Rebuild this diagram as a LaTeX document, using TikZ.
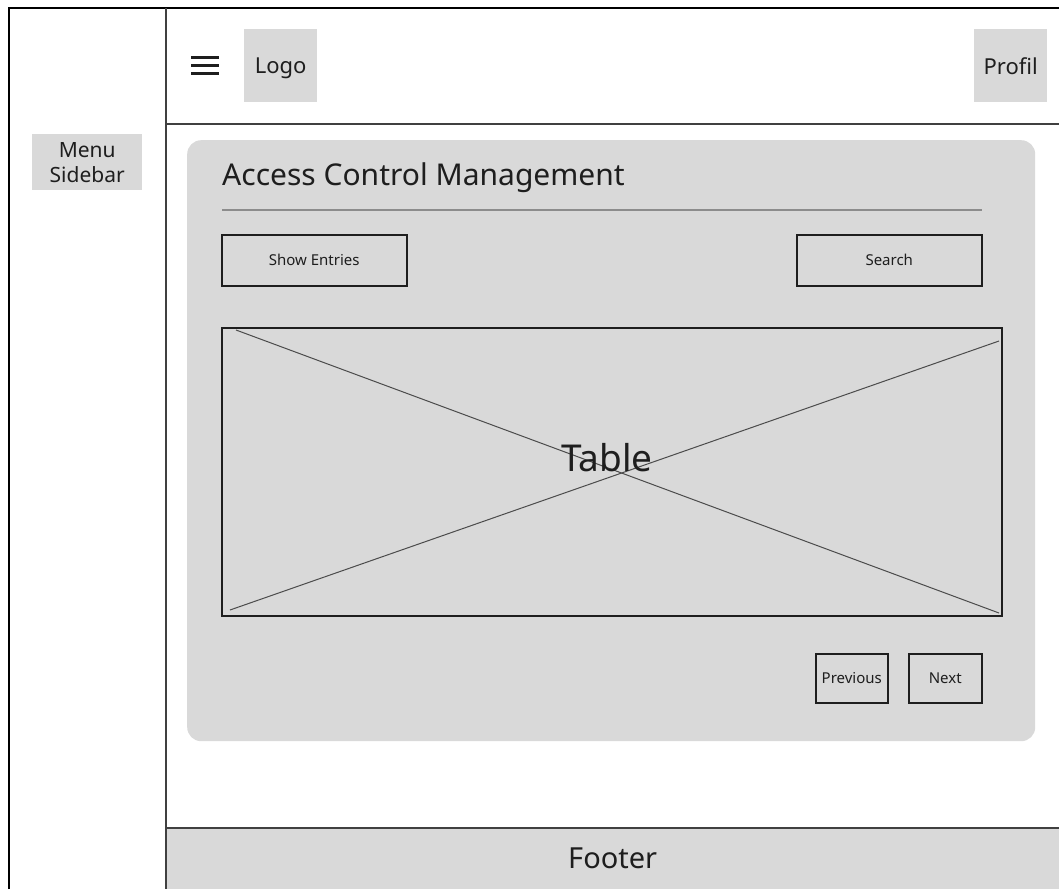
\documentclass[tikz,border=0pt]{standalone}
\usepackage{fontspec}
\setmainfont{Noto Sans}
\usetikzlibrary{positioning, calc}
\definecolor{boxgray}{HTML}{D9D9D9}
\definecolor{ink}{HTML}{1E1E1E}
\definecolor{rulegray}{HTML}{8C8C8C}
\tikzset{/Wire/block/.style={
	fill=boxgray, inner sep=0, text=ink, anchor=north west
}}
\tikzset{/Wire/button/.style={
	draw=ink, line width=1.5pt, inner sep=0, text=ink, anchor=north west,
	font=\fontsize{15}{18}\selectfont
}}
\tikzset{/Wire/frame/.style={
	draw=black, line width=2.2pt
}}
\tikzset{/Wire/divider/.style={
	draw=ink!85, line width=1.7pt
}}

\begin{document}
\begin{tikzpicture}[x=1pt, y=-1pt]
\useasboundingbox (0,0) rectangle (1059,889);

% page frame and regions
\coordinate (framebl) at (9,889);
\coordinate (frametl) at (9,8);
\coordinate (frametr) at (1059,8);
\coordinate (sidetop) at (166,8);
\coordinate (sidebot) at (166,889);
\coordinate (headl) at (166,124);
\coordinate (headr) at (1059,124);
\node[/Wire/block, minimum width=893, minimum height=61, font=\fontsize{29}{32}\selectfont] (footer) at (166,828) {Footer};
\draw[/Wire/frame] (framebl) -- (frametl) -- (frametr);
\draw[/Wire/divider] (sidetop) -- (sidebot);
\draw[/Wire/divider] (headl) -- (headr);
\draw[/Wire/divider] (footer.north west) -- (footer.north east);

% sidebar
\node[/Wire/block, minimum width=110, minimum height=56, align=center, font=\fontsize{21}{25}\selectfont] (sidebar) at (32,134) {Menu\\Sidebar};

% header
\node[minimum width=28, minimum height=22, inner sep=0, path picture={
	\foreach \dy in {-8,0,8}
		\draw[ink, line width=3pt] ($(path picture bounding box.west)+(0,\dy)$) -- ($(path picture bounding box.east)+(0,\dy)$);
}] (burger) at (205,65) {};
\node[/Wire/block, minimum size=73, text depth=0pt, font=\fontsize{22}{26}\selectfont] (logo) at (244,29) {Logo};
\node[/Wire/block, minimum size=73, text depth=0pt, font=\fontsize{22}{26}\selectfont] (profil) at (974,29) {Profil};

% content panel
\node[/Wire/block, rounded corners=14, minimum width=848, minimum height=601] (panel) at (187,140) {};
\node[anchor=base west, inner sep=0, text=ink, font=\fontsize{30}{34}\selectfont] (title) at (222,185) {Access Control Management};
\coordinate (rulel) at (222,210);
\coordinate (ruler) at (982,210);
\draw[rulegray, line width=1.2pt] (rulel) -- (ruler);

\node[/Wire/button, minimum width=185, minimum height=51] (entries) at (221,234) {Show Entries};
\node[/Wire/button, minimum width=185, minimum height=51] (search) at (796,234) {Search};

\node[/Wire/button, minimum width=780, minimum height=288] (table) at (221,327) {};
\coordinate (crossa) at (236,330);
\coordinate (crossb) at (999,613);
\coordinate (crossc) at (230,610);
\coordinate (crossd) at (999,341);
\draw[ink!80, line width=1pt] (crossa) -- (crossb);
\draw[ink!80, line width=1pt] (crossc) -- (crossd);
\node[text=ink, inner sep=0, font=\fontsize{37}{40}\selectfont] (tablelabel) at (607,458) {Table};

\node[/Wire/button, minimum width=72, minimum height=49] (previous) at (815,653) {Previous};
\node[/Wire/button, minimum width=73, minimum height=49] (next) at (908,653) {Next};
\end{tikzpicture}
\end{document}
